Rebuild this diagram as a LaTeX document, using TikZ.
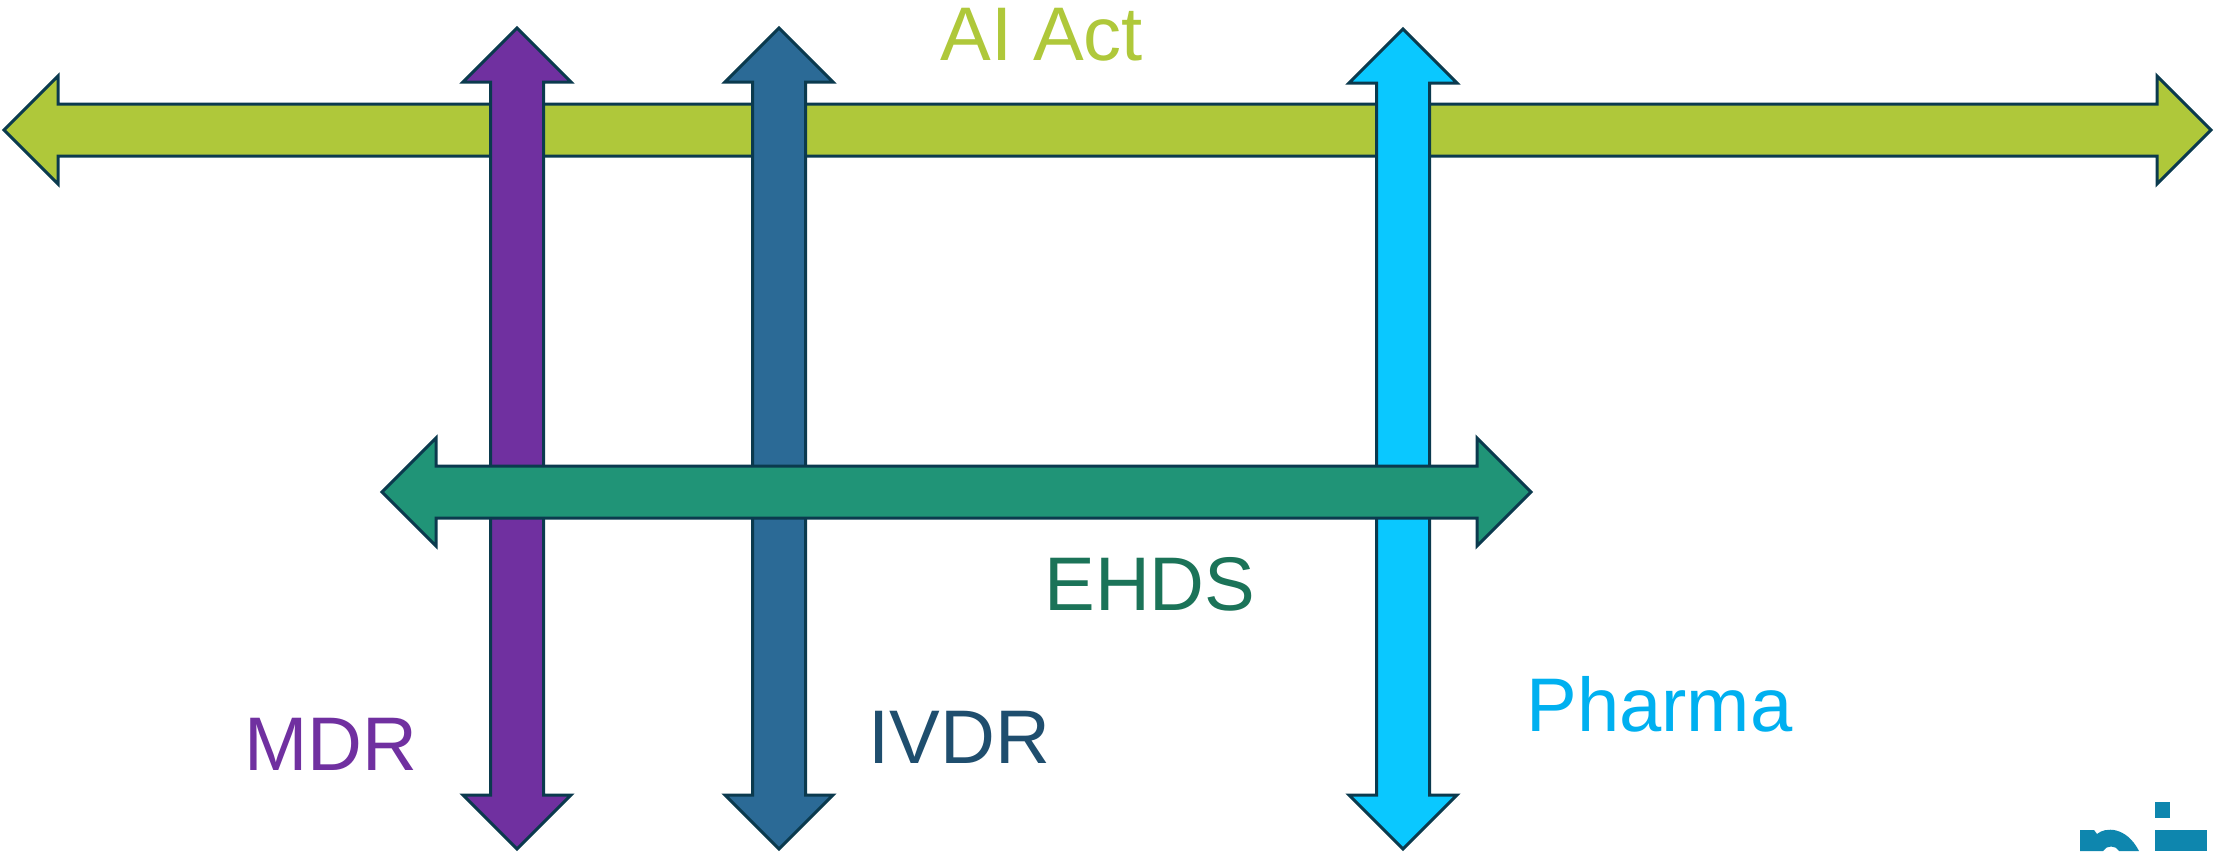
\documentclass[tikz,border=0pt]{standalone}
\usepackage{fontspec}
\setmainfont{Liberation Sans}
\definecolor{aigreen}{HTML}{AFC83A}
\definecolor{mdrpurple}{HTML}{7030A0}
\definecolor{ivdrblue}{HTML}{2B6A96}
\definecolor{ivdrtext}{HTML}{1F4E6E}
\definecolor{pharmacyan}{HTML}{0AC8FF}
\definecolor{pharmatext}{HTML}{00B0F0}
\definecolor{ehdsgreen}{HTML}{209477}
\definecolor{ehdstext}{HTML}{1B7358}
\definecolor{outline}{HTML}{0B3A4E}
\definecolor{logoblue}{HTML}{0E86AE}
% double arrows: #1 colour, #2 fixed coordinate, #3 and #4 tip positions
\newcommand{\HArrow}[4]{%
  \filldraw[lawarrow,fill=#1] (#3,#2) -- ({#3+54},{#2-54}) -- ({#3+54},{#2-26}) -- ({#4-54},{#2-26})
    -- ({#4-54},{#2-54}) -- (#4,#2) -- ({#4-54},{#2+54}) -- ({#4-54},{#2+26})
    -- ({#3+54},{#2+26}) -- ({#3+54},{#2+54}) -- cycle;}
\newcommand{\VArrow}[4]{%
  \filldraw[lawarrow,fill=#1] (#2,#3) -- ({#2+54},{#3+54}) -- ({#2+26.5},{#3+54}) -- ({#2+26.5},{#4-54})
    -- ({#2+54},{#4-54}) -- (#2,#4) -- ({#2-54},{#4-54}) -- ({#2-26.5},{#4-54})
    -- ({#2-26.5},{#3+54}) -- ({#2-54},{#3+54}) -- cycle;}
\begin{document}
\begin{tikzpicture}[x=0.5pt,y=-0.5pt]
\tikzset{lawarrow/.style ={draw=outline, line width=1.5pt, line join=miter}}
\tikzset{lawlabel/.style ={anchor=base west, inner sep=0pt, font=\fontsize{38}{40}\selectfont}}
\useasboundingbox (0,0) rectangle (2214,851);
\HArrow{aigreen}{130}{4}{2211}
\VArrow{mdrpurple}{517}{28}{849}
\VArrow{ivdrblue}{779}{28}{849}
\VArrow{pharmacyan}{1403}{29}{849}
\HArrow{ehdsgreen}{492}{382}{1531}
\node[lawlabel, text=aigreen] (aiact) at (940,60) {AI Act};
\node[lawlabel, text=mdrpurple] (mdr) at (244,770) {MDR};
\node[lawlabel, text=ivdrtext] (ivdr) at (868,763) {IVDR};
\node[lawlabel, text=ehdstext] (ehds) at (1044,610) {EHDS};
\node[lawlabel, text=pharmatext] (pharma) at (1526,731) {Pharma};
% cut off logo in the corner
\fill[logoblue] (2155,802) rectangle (2170,818);
\fill[logoblue] (2155,830) rectangle (2207,851);
\fill[logoblue] (2080,851) -- (2080,830) -- (2094,830) -- (2097,834)
  .. controls (2105,827) and (2126,826) .. (2139,851) -- (2119,851)
  .. controls (2116,845) and (2106,845) .. (2103,851) -- cycle;
\end{tikzpicture}
\end{document}
